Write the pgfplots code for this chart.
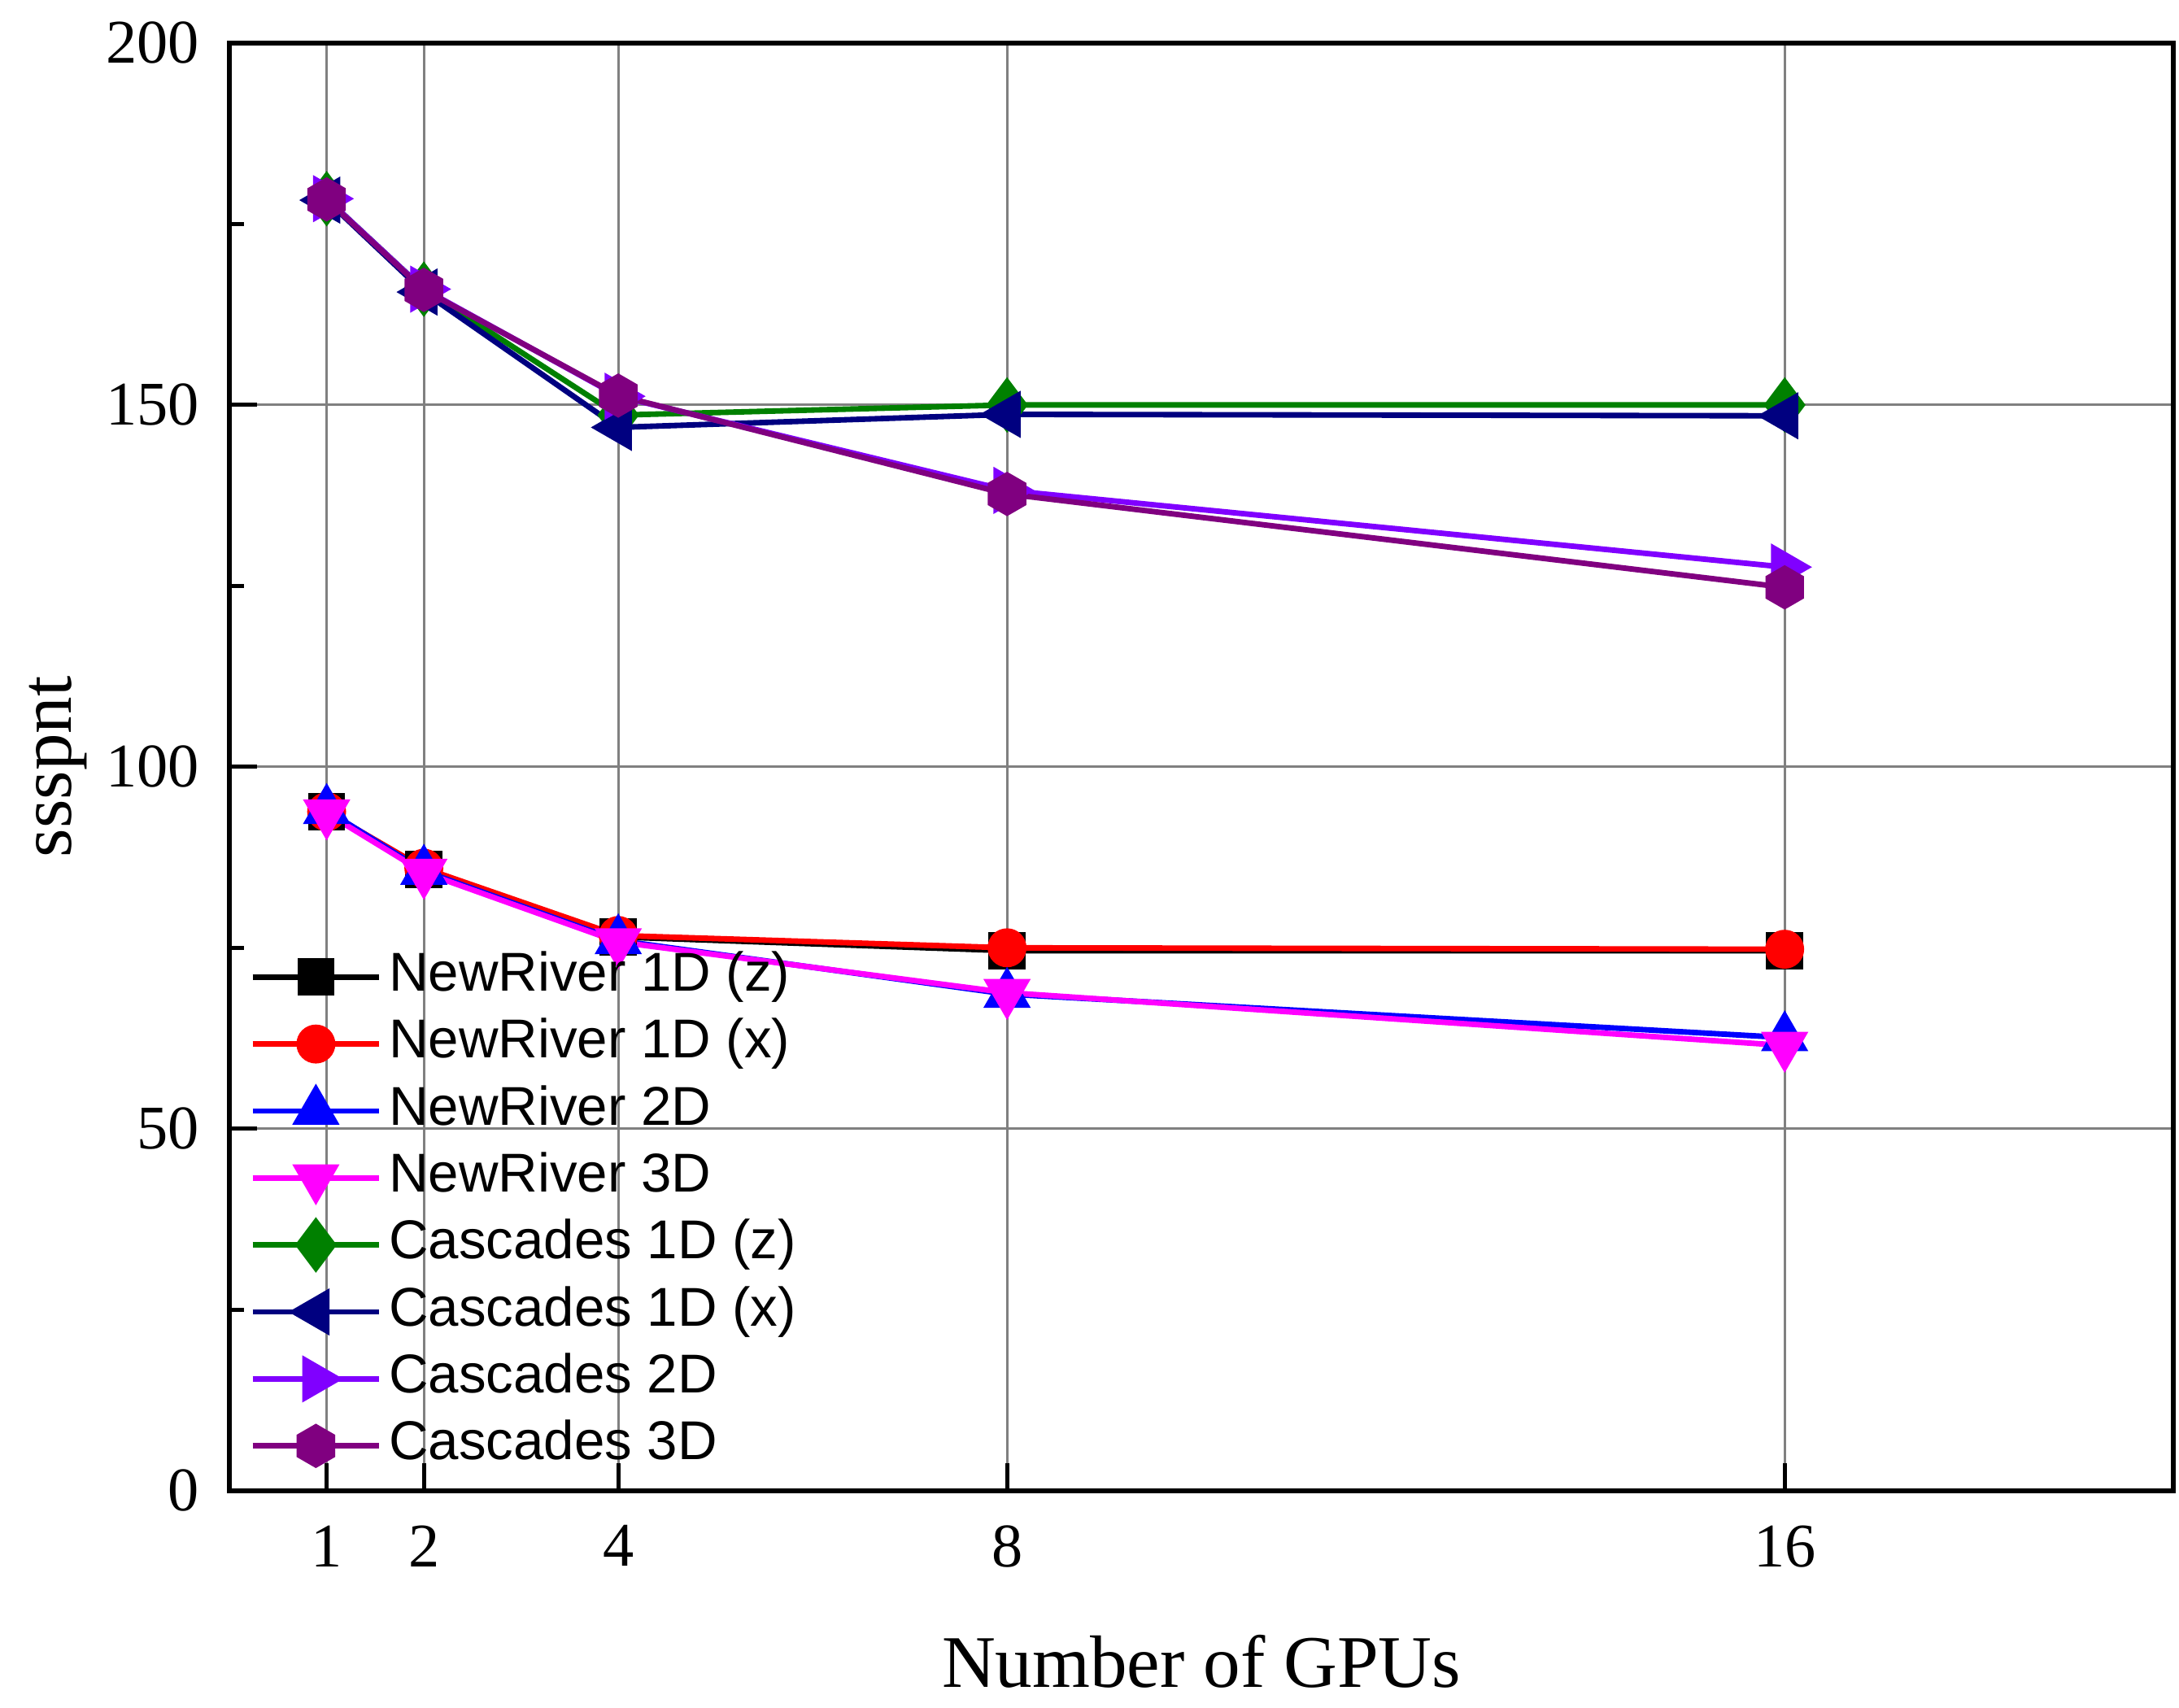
\documentclass[border=0pt]{standalone}
\usepackage{fontspec}
\setmainfont{Liberation Serif}
\newfontfamily\legfont{Liberation Sans}
\usepackage{pgfplots}
\pgfplotsset{compat=1.18}
\definecolor{cgreen}{RGB}{0,128,0}
\definecolor{cnavy}{RGB}{0,0,128}
\definecolor{cviolet}{RGB}{128,0,255}
\definecolor{cpurple}{RGB}{128,0,128}
\definecolor{cmagenta}{RGB}{255,0,255}
\definecolor{cgrid}{RGB}{128,128,128}
\pgfdeclareplotmark{hexagon*}{%
  \pgfpathmoveto{\pgfpointpolar{90}{\pgfplotmarksize}}%
  \pgfpathlineto{\pgfpointpolar{150}{\pgfplotmarksize}}%
  \pgfpathlineto{\pgfpointpolar{210}{\pgfplotmarksize}}%
  \pgfpathlineto{\pgfpointpolar{270}{\pgfplotmarksize}}%
  \pgfpathlineto{\pgfpointpolar{330}{\pgfplotmarksize}}%
  \pgfpathlineto{\pgfpointpolar{30}{\pgfplotmarksize}}%
  \pgfpathclose\pgfusepathqfillstroke}
\begin{document}
\begin{tikzpicture}
\useasboundingbox (-49.5pt,-46.8pt) rectangle (420.6pt,321.6pt);
\begin{axis}[
  at={(0,0)}, anchor=south west,
  scale only axis, width=419.4pt, height=312.3pt,
  xmin=0, xmax=20, ymin=0, ymax=200,
  xtick={1,2,4,8,16},
  ytick={0,50,100,150,200},
  minor ytick={25,75,125,175},
  tick pos=left, tick align=inside,
  major tick length=6pt, minor tick length=3.2pt,
  every tick/.style={black, line width=0.9pt},
  axis line style={line width=1.1pt},
  grid=major,
  major grid style={cgrid, line width=0.5pt},
  ticklabel style={font=\fontsize{13.4}{15}\selectfont},
  /pgf/number format/assume math mode=true,
  xticklabel style={yshift=-4pt},
  yticklabel style={xshift=-3pt},
  xlabel={Number of GPUs}, ylabel={ssspnt},
  label style={font=\fontsize{16}{19}\selectfont},
  xlabel style={at={(axis description cs:0.5,0)}, anchor=center, yshift=-36.9pt},
  ylabel style={at={(axis description cs:0,0.5)}, anchor=center, yshift=37pt},
  every axis plot/.append style={line width=1.2pt, mark options={solid}},
  legend cell align=left,
  legend style={at={(4.2pt,118.1pt)}, anchor=north west, draw=none, fill=none,
    font=\legfont\fontsize{11.8}{13}\selectfont, row sep=0.25pt,
    inner sep=0pt, nodes={inner sep=1.5pt, text height=8.6pt, text depth=2.6pt}},
  legend image code/.code={\draw[mark repeat=2,mark phase=2] plot coordinates {(0pt,0pt) (13.65pt,0pt) (27.3pt,0pt)};},
]
\addplot[black, mark=square*, mark size=3.4pt] coordinates {(1,93.8)(2,85.8)(4,76.5)(8,74.6)(16,74.6)};
\addlegendentry{NewRiver 1D (z)}
\addplot[red, mark=*, mark size=3.6pt] coordinates {(1,93.8)(2,86.0)(4,76.7)(8,75.0)(16,74.8)};
\addlegendentry{NewRiver 1D (x)}
\addplot[blue, mark=triangle*, mark size=4.7pt] coordinates {(1,94.0)(2,85.6)(4,76.0)(8,68.6)(16,62.6)};
\addlegendentry{NewRiver 2D}
\addplot[cmagenta, mark=triangle*, mark size=4.7pt, mark options={rotate=180}] coordinates {(1,93.6)(2,85.4)(4,75.8)(8,68.8)(16,61.5)};
\addlegendentry{NewRiver 3D}
\addplot[cgreen, mark=diamond*, mark size=5pt] coordinates {(1,178.5)(2,166.0)(4,148.6)(8,150.0)(16,150.0)};
\addlegendentry{Cascades 1D (z)}
\addplot[cnavy, mark=triangle*, mark size=4.7pt, mark options={rotate=90}] coordinates {(1,178.3)(2,165.6)(4,146.9)(8,148.7)(16,148.5)};
\addlegendentry{Cascades 1D (x)}
\addplot[cviolet, mark=triangle*, mark size=4.7pt, mark options={rotate=-90}] coordinates {(1,178.5)(2,166.0)(4,151.2)(8,138.2)(16,127.6)};
\addlegendentry{Cascades 2D}
\addplot[cpurple, mark=hexagon*, mark size=4.1pt] coordinates {(1,178.4)(2,165.9)(4,151.3)(8,137.7)(16,124.8)};
\addlegendentry{Cascades 3D}
\end{axis}
\end{tikzpicture}
\end{document}
